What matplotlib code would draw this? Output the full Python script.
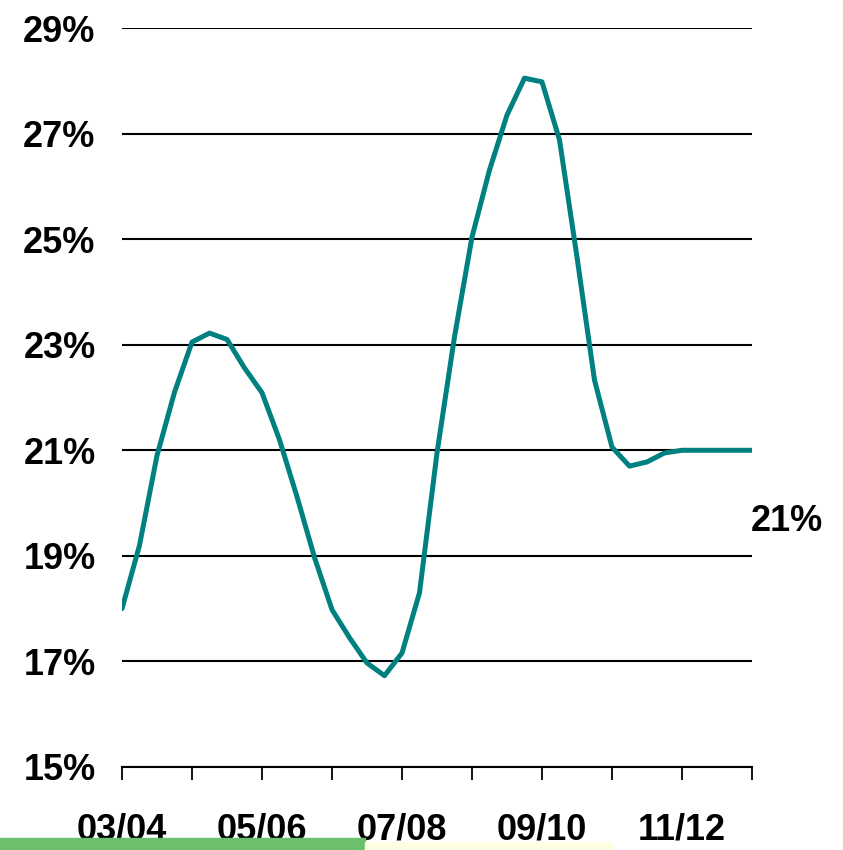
import numpy as np
import matplotlib
matplotlib.use("Agg")
import matplotlib.pyplot as plt
from matplotlib.patches import Rectangle

# exercicios (ticks anuais) e valores trimestrais (%)
anos = ["03/04", "04/05", "05/06", "06/07", "07/08", "08/09", "09/10", "10/11", "11/12", "12/13"]
rotulos = ["03/04", "", "05/06", "", "07/08", "", "09/10", "", "11/12", ""]
valores = [18.0, 19.2, 20.9, 22.1, 23.05, 23.22, 23.1, 22.56, 22.09, 21.2,
           20.12, 18.97, 17.98, 17.45, 16.97, 16.73, 17.16, 18.3, 20.95, 23.15,
           25.04, 26.31, 27.35, 28.05, 27.98, 26.88, 24.66, 22.33, 21.06, 20.7,
           20.78, 20.95, 21.0, 21.0, 21.0, 21.0, 21.0]
yticks = [15, 17, 19, 21, 23, 25, 27, 29]

plt.rcParams["font.family"] = ["Liberation Sans", "DejaVu Sans"]
plt.rcParams["font.weight"] = "bold"
FS = 26

fig = plt.figure(figsize=(8.43, 8.50), dpi=100)
ax = fig.add_axes([122 / 843, 1 - 767 / 850, (752 - 122) / 843, (767 - 28) / 850])

x = np.arange(len(valores)) / 4
ax.plot(x, valores, color="#008080", lw=3.6, solid_capstyle="round", solid_joinstyle="round", zorder=3)

ax.set_xlim(0, len(anos) - 1)
ax.set_ylim(15, 29)
ax.set_yticks(yticks)
ax.set_yticklabels([f"{v}%" for v in yticks], fontsize=FS, fontweight="bold")
ax.set_xticks(range(len(anos)))
ax.set_xticklabels(rotulos, fontsize=FS, fontweight="bold")
ax.tick_params(axis="y", length=0, pad=19)
ax.tick_params(axis="x", length=9.5, width=1.3, direction="out", pad=23, color="black")
ax.grid(axis="y", color="black", lw=1.5)
ax.set_axisbelow(True)
for s in ["left", "right", "top"]:
    ax.spines[s].set_visible(False)
ax.spines["bottom"].set_linewidth(1.5)

ax.annotate("21%", xy=(x[-1], valores[-1]), xytext=(25, -51), textcoords="offset points",
            ha="center", va="center", fontsize=FS, fontweight="bold", annotation_clip=False)

# faixas decorativas no rodape
fig.patches.append(Rectangle((0, 0), 365 / 843, 12 / 850, transform=fig.transFigure,
                             color="#6cbf6c", zorder=0))
fig.patches.append(Rectangle((365 / 843, 0), 247 / 843, 8 / 850, transform=fig.transFigure,
                             color="#fffde2", zorder=0))

fig.savefig("out.png", dpi=100)
